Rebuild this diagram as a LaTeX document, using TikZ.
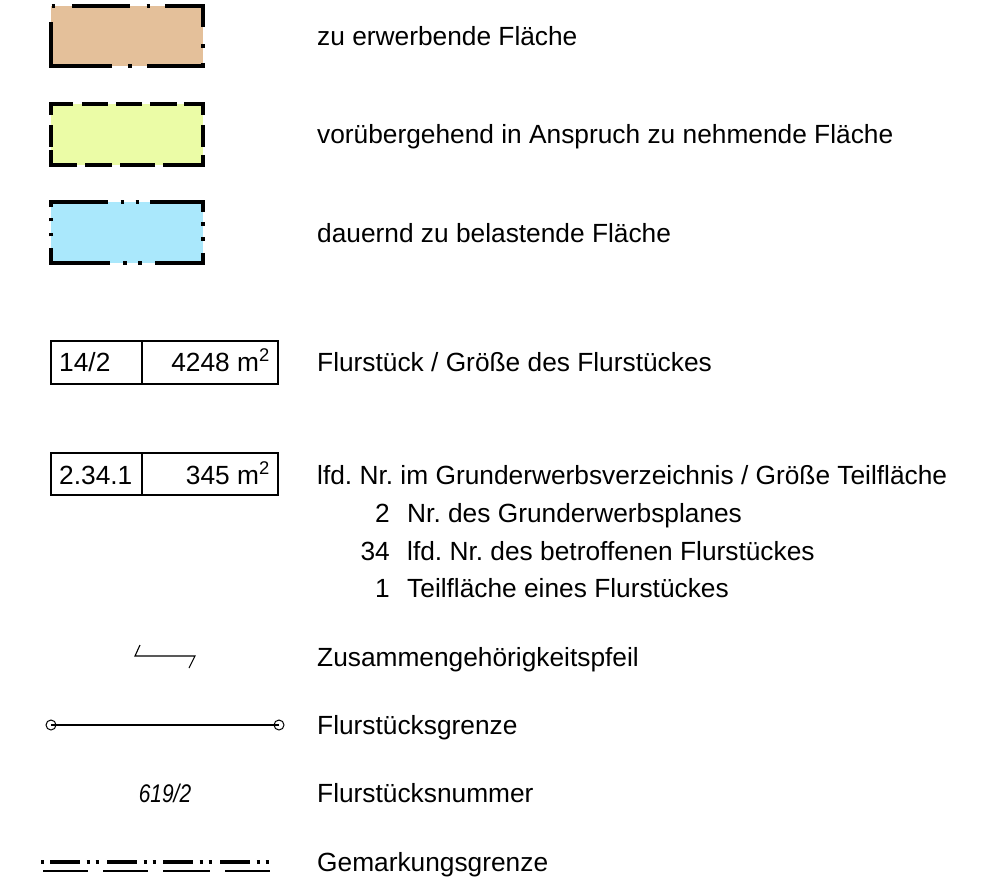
\documentclass[tikz,border=0pt]{standalone}
\usepackage{fontspec}
\setmainfont{Liberation Sans}
\definecolor{brownfill}{RGB}{228,192,154}
\definecolor{greenfill}{RGB}{235,252,166}
\definecolor{bluefill}{RGB}{170,232,252}
\frenchspacing
\begin{document}
\begin{tikzpicture}[x=1pt,y=-1pt,
  lbl/.style={anchor=base west,inner sep=0pt,font=\fontsize{26.3}{30}\selectfont},
  numr/.style={anchor=base east,inner sep=0pt,font=\fontsize{26.3}{30}\selectfont},
  rim/.style={line width=3.5pt,line cap=butt,line join=miter},
  tabline/.style={line width=1.9pt},
  thin/.style={line width=1.1pt},
  border/.style={line width=2.8pt},
  pt/.style={circle,draw,line width=1pt,minimum size=10pt,inner sep=0pt}]
\useasboundingbox (0,0) rectangle (993,893);

% ---- swatch 1: zu erwerbende Flaeche
\fill[brownfill] (51,6) rectangle (203,66);
\draw[rim] (51.5,6) -- (55,6);
\draw[rim] (72,6) -- (130,6);
\draw[rim] (146.5,6) -- (150,6);
\draw[rim] (165,6) -- (203,6) -- (203,27);
\draw[rim] (203,44.5) -- (203,48);
\draw[rim] (203,63) -- (203,66) -- (147,66);
\draw[rim] (128,66) -- (131.5,66);
\draw[rim] (112,66) -- (51,66) -- (51,22);

% ---- swatch 2: voruebergehend
\fill[greenfill] (51,104) rectangle (203,165);
\draw[rim] (51,115) -- (51,104) -- (73,104);
\draw[rim] (82,104) -- (108,104);
\draw[rim] (116,104) -- (142,104);
\draw[rim] (150,104) -- (177,104);
\draw[rim] (184,104) -- (203,104) -- (203,115);
\draw[rim] (203,125) -- (203,147);
\draw[rim] (203,155) -- (203,165) -- (163,165);
\draw[rim] (155,165) -- (120,165);
\draw[rim] (112,165) -- (85,165);
\draw[rim] (77,165) -- (51,165) -- (51,150);
\draw[rim] (51,147) -- (51,125);

% ---- swatch 3: dauernd zu belastende
\fill[bluefill] (51,202) rectangle (203,263);
\draw[rim] (51,207) -- (51,202) -- (108,202);
\draw[rim] (120.5,202) -- (124,202);
\draw[rim] (135.5,202) -- (139,202);
\draw[rim] (150,202) -- (203,202) -- (203,212);
\draw[rim] (203,222.5) -- (203,226);
\draw[rim] (203,237.5) -- (203,241);
\draw[rim] (203,253) -- (203,263) -- (155,263);
\draw[rim] (141.5,263) -- (138,263);
\draw[rim] (126.5,263) -- (123,263);
\draw[rim] (110,263) -- (51,263) -- (51,248);
\draw[rim] (51,236.5) -- (51,233);
\draw[rim] (51,221.5) -- (51,218);

\node[lbl] (t1) at (317,46) {zu erwerbende Fläche};
\node[lbl] (t2) at (317,144) {vorübergehend in Anspruch zu nehmende Fläche};
\node[lbl] (t3) at (317,243) {dauernd zu belastende Fläche};

% ---- Flurstueck box
\draw[tabline] (51,341) rectangle (278,384);
\draw[tabline] (142,341) -- (142,384);
\node[lbl] (f1) at (59,371) {14/2};
\node[numr] (f2) at (270,371) {4248 m\textsuperscript{2}};
\node[lbl] (t4) at (317,371) {Flurstück / Größe des Flurstückes};

% ---- lfd. Nr. box
\draw[tabline] (51,453) rectangle (278,495);
\draw[tabline] (142,453) -- (142,495);
\node[lbl] (g1) at (59,484) {2.34.1};
\node[numr] (g2) at (270,484) {345 m\textsuperscript{2}};
\node[lbl] (t5) at (317,484) {lfd. Nr. im Grunderwerbsverzeichnis / Größe Teilfläche};
\node[numr] (n1) at (390,522) {2};
\node[lbl] (s1) at (407,522) {Nr. des Grunderwerbsplanes};
\node[numr] (n2) at (390,560) {34};
\node[lbl] (s2) at (407,560) {lfd. Nr. des betroffenen Flurstückes};
\node[numr] (n3) at (390,597) {1};
\node[lbl] (s3) at (407,597) {Teilfläche eines Flurstückes};

% ---- Zusammengehoerigkeitspfeil
\coordinate (a1) at (140,645);
\coordinate (a2) at (135,656);
\coordinate (a3) at (195,656);
\coordinate (a4) at (189,668);
\draw[thin] (a1) -- (a2) -- (a3) -- (a4);
\node[lbl] (t6) at (317,666) {Zusammengehörigkeitspfeil};

% ---- Flurstuecksgrenze
\node[pt] (p1) at (51,725) {};
\node[pt] (p2) at (279,725) {};
\draw[border] (p1.center) -- (p2.center);
\node[lbl] (t7) at (317,734) {Flurstücksgrenze};

% ---- Flurstuecksnummer
\node[anchor=base,inner sep=0pt,font=\fontsize{25.5}{30}\selectfont\itshape] (num) at (165,802) {\scalebox{0.82}[1]{619/2}};
\node[lbl] (t8) at (317,802) {Flurstücksnummer};

% ---- Gemarkungsgrenze
\begin{scope}[line cap=butt]
\draw[line width=3.2pt] (41,862) -- (44,862);
\foreach \s in {50,107,163,220}{
  \draw[line width=3.2pt] (\s,862) -- ({\s+30},862);
  \draw[line width=3.2pt] ({\s+36.5},862) -- ({\s+40},862);
  \draw[line width=3.2pt] ({\s+45.5},862) -- ({\s+49},862);
}
\draw[line width=2.2pt] (43,871) -- (88,871);
\draw[line width=2.2pt] (103,871) -- (148,871);
\draw[line width=2.2pt] (163,871) -- (210,871);
\draw[line width=2.2pt] (225,871) -- (270,871);
\end{scope}
\node[lbl] (t9) at (317,871) {Gemarkungsgrenze};
\end{tikzpicture}
\end{document}
